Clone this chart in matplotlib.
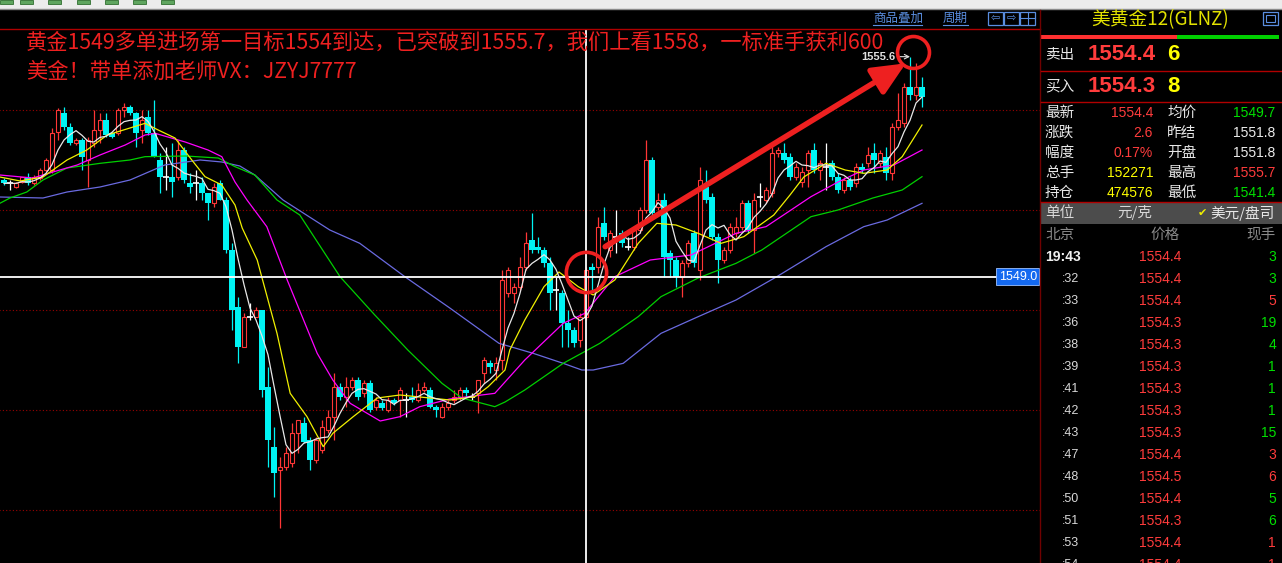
import matplotlib
matplotlib.use("Agg")
import matplotlib.pyplot as plt
import matplotlib.transforms as mtransforms
from matplotlib.patches import Rectangle
import numpy as np
import pandas as pd

plt.rcParams['font.family'] = ['Noto Sans CJK SC', 'DejaVu Sans']
NUM = ['Liberation Sans', 'DejaVu Sans']

# ---- bars (open / high / low / close)
opens = [1551.9, 1551.8, 1551.7, 1551.85, 1552.0, 1551.8, 1551.95, 1552.2, 1552.2, 1553.35,
         1553.9, 1553.5, 1553.0, 1553.1, 1552.5, 1553.0, 1553.4, 1553.7, 1553.3, 1553.3,
         1554.0, 1554.1, 1553.9, 1553.4, 1553.8, 1553.3, 1552.5, 1552.0, 1552.0, 1552.0,
         1552.8, 1551.8, 1551.8, 1551.8, 1551.5, 1551.2, 1551.8, 1551.3, 1549.8, 1548.1,
         1546.9, 1547.8, 1547.8, 1548.0, 1545.7, 1543.9, 1543.2, 1543.3, 1543.4, 1544.3,
         1544.6, 1544.1, 1543.5, 1543.8, 1544.4, 1544.8, 1545.7, 1545.4, 1545.7, 1545.9,
         1545.5, 1545.8, 1545.1, 1545.2, 1545.0, 1545.3, 1545.3, 1545.3, 1545.4, 1545.3,
         1545.6, 1545.6, 1545.1, 1544.8, 1545.1, 1545.3, 1545.4, 1545.6, 1545.4, 1545.5,
         1546.1, 1546.4, 1546.2, 1546.5, 1548.5, 1548.5, 1548.7, 1549.3, 1550.1, 1549.9,
         1549.8, 1549.4, 1548.6, 1548.5, 1547.6, 1547.4, 1547.1, 1547.8, 1549.3, 1549.3,
         1550.6, 1549.8, 1550.2, 1550.3, 1549.9, 1549.9, 1550.4, 1551.0, 1552.5, 1551.1,
         1551.3, 1549.7, 1549.5, 1549.0, 1549.4, 1550.3, 1549.2, 1551.7, 1551.4, 1550.2,
         1549.5, 1549.8, 1550.3, 1550.5, 1551.2, 1550.4, 1551.4, 1551.3, 1551.5, 1552.7,
         1552.7, 1552.6, 1552.0, 1551.85, 1552.2, 1552.8, 1552.2, 1552.3, 1552.4, 1552.0,
         1551.6, 1551.9, 1551.8, 1552.3, 1552.4, 1552.7, 1552.4, 1552.6, 1552.1, 1553.5,
         1553.6, 1554.7, 1554.45, 1554.7]
highs = [1551.95, 1551.9, 1551.85, 1552.0, 1552.1, 1552.05, 1552.25, 1552.55, 1553.45, 1554.05,
         1554.1, 1553.6, 1553.15, 1553.15, 1553.2, 1554.0, 1553.9, 1553.9, 1553.35, 1554.05,
         1554.2, 1554.15, 1553.95, 1554.0, 1554.0, 1554.3, 1552.7, 1552.9, 1553.0, 1553.1,
         1552.9, 1552.1, 1552.2, 1552.0, 1551.5, 1551.8, 1551.9, 1551.4, 1550.0, 1548.4,
         1547.9, 1548.2, 1548.1, 1548.0, 1546.3, 1544.5, 1543.6, 1543.9, 1544.6, 1544.7,
         1544.8, 1544.2, 1544.2, 1544.7, 1545.0, 1546.1, 1545.8, 1546.0, 1546.0, 1546.0,
         1545.9, 1545.9, 1545.4, 1545.3, 1545.4, 1545.35, 1545.7, 1545.5, 1545.7, 1545.8,
         1545.85, 1545.7, 1545.15, 1545.2, 1545.3, 1545.6, 1545.7, 1545.7, 1545.5, 1545.9,
         1546.6, 1546.5, 1546.6, 1549.2, 1549.3, 1548.8, 1549.6, 1550.35, 1550.9, 1550.2,
         1549.9, 1549.6, 1549.0, 1548.6, 1548.0, 1547.5, 1547.9, 1549.3, 1549.4, 1550.8,
         1551.1, 1550.4, 1551.0, 1550.4, 1550.2, 1550.5, 1551.1, 1553.1, 1552.6, 1551.5,
         1551.5, 1549.8, 1549.6, 1549.5, 1550.1, 1550.4, 1552.3, 1552.2, 1551.5, 1550.3,
         1549.9, 1550.6, 1550.8, 1551.3, 1551.3, 1551.5, 1551.8, 1551.7, 1553.0, 1552.9,
         1553.0, 1552.7, 1552.4, 1552.3, 1552.8, 1553.0, 1552.5, 1553.0, 1552.5, 1552.1,
         1552.0, 1552.0, 1552.4, 1552.4, 1552.9, 1553.0, 1552.8, 1552.9, 1553.6, 1554.5,
         1554.8, 1555.6, 1555.4, 1555.0]
lows = [1551.75, 1551.6, 1551.65, 1551.8, 1551.75, 1551.75, 1551.9, 1552.15, 1552.1, 1553.1,
        1553.4, 1552.95, 1552.95, 1552.2, 1551.7, 1552.9, 1553.0, 1553.2, 1553.15, 1553.25,
        1553.8, 1553.85, 1552.9, 1553.0, 1553.25, 1552.6, 1551.5, 1551.6, 1551.4, 1551.9,
        1551.8, 1551.5, 1551.3, 1551.3, 1550.7, 1551.1, 1551.3, 1549.7, 1547.4, 1546.4,
        1546.9, 1547.7, 1547.8, 1545.4, 1543.3, 1542.4, 1541.45, 1543.2, 1543.3, 1543.7,
        1544.0, 1543.2, 1543.4, 1543.7, 1544.3, 1544.1, 1545.3, 1545.1, 1545.6, 1545.3,
        1545.4, 1544.95, 1545.0, 1545.0, 1544.95, 1545.15, 1544.8, 1544.8, 1545.25, 1545.25,
        1545.55, 1545.05, 1544.8, 1544.75, 1545.0, 1545.2, 1545.3, 1545.4, 1545.3, 1544.9,
        1545.8, 1546.1, 1545.9, 1546.2, 1548.4, 1548.2, 1548.6, 1549.2, 1549.7, 1549.7,
        1549.3, 1548.0, 1548.0, 1546.9, 1546.9, 1546.9, 1546.9, 1547.7, 1548.6, 1549.1,
        1550.1, 1549.6, 1549.7, 1549.9, 1549.8, 1549.8, 1550.3, 1550.9, 1550.8, 1551.0,
        1549.0, 1549.0, 1548.7, 1548.4, 1549.3, 1549.3, 1548.9, 1551.2, 1550.1, 1548.8,
        1549.4, 1549.7, 1550.2, 1550.4, 1550.3, 1549.7, 1551.1, 1551.2, 1551.4, 1552.6,
        1552.4, 1551.9, 1551.9, 1551.7, 1551.7, 1552.1, 1551.9, 1551.6, 1551.9, 1551.5,
        1551.5, 1551.6, 1551.7, 1552.1, 1552.3, 1552.1, 1552.3, 1551.9, 1551.9, 1553.4,
        1553.5, 1554.3, 1554.3, 1554.1]
closes = [1551.8, 1551.8, 1551.8, 1552.0, 1551.8, 1552.0, 1552.2, 1552.5, 1553.3, 1554.0,
          1553.5, 1553.0, 1553.1, 1552.6, 1553.1, 1553.4, 1553.7, 1553.25, 1553.2, 1554.0,
          1554.1, 1553.9, 1553.3, 1553.7, 1553.3, 1552.6, 1552.0, 1552.0, 1551.85, 1552.8,
          1551.9, 1551.7, 1551.8, 1551.5, 1551.2, 1551.7, 1551.3, 1549.8, 1548.0, 1546.9,
          1547.8, 1547.8, 1548.0, 1545.6, 1544.1, 1543.1, 1543.3, 1543.7, 1544.3, 1544.7,
          1544.05, 1543.5, 1544.1, 1544.5, 1544.8, 1545.7, 1545.4, 1545.7, 1545.9, 1545.4,
          1545.8, 1545.0, 1545.3, 1545.05, 1545.3, 1545.2, 1545.6, 1545.3, 1545.3, 1545.6,
          1545.7, 1545.1, 1545.0, 1545.1, 1545.2, 1545.4, 1545.6, 1545.5, 1545.4, 1545.9,
          1546.5, 1546.3, 1546.4, 1548.9, 1549.2, 1548.7, 1549.3, 1550.0, 1549.8, 1549.8,
          1549.4, 1548.5, 1548.6, 1547.6, 1547.4, 1547.0, 1547.8, 1549.2, 1549.2, 1550.5,
          1550.2, 1550.3, 1550.2, 1550.0, 1549.9, 1550.4, 1551.0, 1552.5, 1550.9, 1551.3,
          1549.6, 1549.5, 1549.0, 1549.4, 1550.0, 1549.4, 1551.9, 1551.3, 1550.2, 1549.5,
          1549.8, 1550.5, 1550.5, 1551.2, 1550.4, 1551.3, 1551.4, 1551.6, 1552.7, 1552.8,
          1552.5, 1552.0, 1552.3, 1552.15, 1552.7, 1552.2, 1552.4, 1552.3, 1552.0, 1551.6,
          1551.9, 1551.7, 1552.3, 1552.2, 1552.65, 1552.5, 1552.7, 1552.1, 1553.5, 1553.7,
          1554.7, 1554.45, 1554.7, 1554.4]

# moving-average lines: (bar index, price)
ma10_x = [-0.7, 2.7, 6.5, 10.5, 13.8, 17.2, 21, 23.5, 25.7, 28.5, 31.3, 33.5, 36.3, 38.5, 39.7,
          42.2, 45.5, 47.7, 50.5, 53.2, 54.8, 58.2, 62.2, 66, 74.3, 78.5, 80.7, 83.5, 84.3, 86.8,
          90, 92.5, 95.7, 98.2, 101.8, 105.7, 108.8, 112, 115.7, 119.5, 123.3, 128.3, 131, 133.3,
          137, 140.2, 143.3, 147.2, 149.7, 153]
ma10_y = [1551.99, 1551.87, 1551.99, 1552.5, 1552.8, 1553.25, 1553.46, 1553.6, 1553.4, 1553.16,
          1552.5, 1552.0, 1551.75, 1551.15, 1550.46, 1549.5, 1547.3, 1545.5, 1544.8, 1543.9,
          1544.3, 1544.8, 1545.36, 1545.45, 1545.3, 1545.4, 1545.7, 1546.2, 1546.8, 1547.7,
          1548.7, 1549.14, 1548.7, 1548.45, 1548.9, 1550.0, 1550.6, 1550.55, 1550.3, 1550.0,
          1550.2, 1550.85, 1551.45, 1551.99, 1552.4, 1552.2, 1552.1, 1552.2, 1552.6, 1553.55]
ma20_x = [-0.7, 4.8, 9.3, 12.2, 16, 20.2, 23.5, 25.2, 30.2, 34, 36.3, 38.5, 40.5, 43.8, 47.2,
          52.2, 54.8, 57.7, 62.7, 66, 69.3, 74.3, 81.8, 86.8, 93.2, 96.8, 101.8, 107.7, 114.5,
          122, 127, 134.5, 139, 143.3, 148.3, 153]
ma20_y = [1552.05, 1551.96, 1552.2, 1552.35, 1552.65, 1552.95, 1553.25, 1553.3, 1553.04, 1552.8,
          1552.6, 1551.84, 1551.3, 1550.5, 1548.9, 1546.7, 1545.9, 1545.2, 1544.67, 1544.8,
          1545.1, 1545.33, 1545.5, 1546.5, 1547.6, 1547.9, 1549.0, 1549.5, 1549.65, 1550.3,
          1550.5, 1551.4, 1551.84, 1552.2, 1552.35, 1552.8]
ma40_x = [-0.7, 1, 3.8, 6.5, 10.5, 16, 21, 23.5, 30.2, 35.7, 38.5, 41.8, 45.5, 49.3, 56, 61.8,
          67.3, 73, 76.3, 79.7, 81.8, 83.5, 86.8, 93.2, 99.3, 105.7, 109.5, 115.7, 122, 126.3,
          134.5, 139, 144.8, 149.7, 153]
ma40_y = [1551.2, 1551.36, 1551.54, 1551.9, 1552.26, 1552.4, 1552.5, 1552.6, 1552.62, 1552.56,
          1552.3, 1552.05, 1551.3, 1550.85, 1549.0, 1547.85, 1546.8, 1545.8, 1545.36, 1545.2,
          1545.1, 1545.24, 1545.6, 1546.4, 1547.0, 1547.8, 1548.4, 1548.96, 1549.4, 1549.8,
          1550.8, 1551.0, 1551.36, 1551.6, 1552.0]
ma60_x = [-0.7, 6.5, 10.5, 16, 21, 26.8, 32.7, 36.3, 39.3, 41.8, 46.5, 54.3, 59.3, 66.8, 74.3,
          82.5, 88.2, 93.2, 96.3, 98.2, 103.2, 109.5, 115.7, 122, 128.8, 137, 143.3, 147.2, 153]
ma60_y = [1551.39, 1551.36, 1551.54, 1551.69, 1551.9, 1552.35, 1552.5, 1552.44, 1552.32, 1552.05,
          1551.3, 1550.4, 1550.0, 1549.0, 1548.06, 1547.0, 1546.7, 1546.4, 1546.2, 1546.2,
          1546.4, 1547.3, 1547.8, 1548.3, 1549.0, 1549.9, 1550.5, 1550.7, 1551.2]

grid_prices = [1554, 1551, 1548, 1545, 1542]
cross_bar = 97
cross_price = 1549.0
entry_mark = (97, 1549.15)
target_mark = (151.5, 1555.75)
arrow_from = (100.2, 1549.9)
arrow_to = (150.3, 1555.4)
peak_bar = 151

note_line1 = '黄金1549多单进场第一目标1554到达，已突破到1555.7，我们上看1558，一标准手获利600'
note_line2 = '美金！带单添加老师VX：JZYJ7777'

# ---- quote panel
title = '美黄金12(GLNZ)'
ask_price, ask_size = '1554.4', '6'
bid_price, bid_size = '1554.3', '8'
stat_left_labels = ['最新', '涨跌', '幅度', '总手', '持仓']
stat_left_values = ['1554.4', '2.6', '0.17%', '152271', '474576']
stat_left_colors = ['red', 'red', 'red', 'yellow', 'yellow']
stat_right_labels = ['均价', '昨结', '开盘', '最高', '最低']
stat_right_values = ['1549.7', '1551.8', '1551.8', '1555.7', '1541.4']
stat_right_colors = ['green', 'white', 'white', 'red', 'green']
tick_times = ['19:43', ':32', ':33', ':36', ':38', ':39', ':41', ':42', ':43', ':47', ':48',
              ':50', ':51', ':53', ':54']
tick_prices = ['1554.4', '1554.4', '1554.4', '1554.3', '1554.3', '1554.3', '1554.3', '1554.3',
               '1554.3', '1554.4', '1554.5', '1554.4', '1554.3', '1554.4', '1554.4']
tick_sizes = ['3', '3', '5', '19', '4', '1', '1', '1', '15', '3', '6', '5', '6', '1', '1']
tick_size_colors = ['green', 'green', 'red', 'green', 'green', 'green', 'green', 'green', 'green',
                    'red', 'red', 'green', 'green', 'red', 'red']

RED = '#ff3636'
CYAN = '#00f4f4'
ANN = '#ee2020'
PAL = {'red': '#ff3c3c', 'green': '#00e000', 'yellow': '#ffff00', 'white': '#ececec'}

W, H = 1282, 563
fig = plt.figure(figsize=(W / 100, H / 100), dpi=100, facecolor='black')

# ---- candlestick chart
ax = fig.add_axes([0, 0, 1040 / W, (H - 29) / H])
ax.set_xlim(-4 / 6, 1036 / 6)
ax.set_ylim(1554 - 453 * 0.03, 1554 + 81 * 0.03)
ax.axis('off')

o, h, l, c = map(np.array, (opens, highs, lows, closes))
idx = np.arange(len(c))
flat = np.isclose(o, c)
up = (c > o) & ~flat
dn = (c < o) & ~flat

ax.hlines(grid_prices, -1, 174, colors='#9a0000', linestyles=(0, (1, 2)), lw=0.8, zorder=1)

ax.vlines(idx[up], l[up], h[up], color=RED, lw=0.9, zorder=2)
ax.vlines(idx[dn], l[dn], h[dn], color=CYAN, lw=0.9, zorder=2)
ax.vlines(idx[flat], l[flat], h[flat], color='white', lw=0.9, zorder=2)
ax.bar(idx[up], (c - o)[up], bottom=o[up], width=0.68, facecolor='black',
       edgecolor=RED, lw=0.8, zorder=3)
ax.bar(idx[dn], (o - c)[dn], bottom=c[dn], width=0.85, color=CYAN, lw=0, zorder=3)
ax.hlines(c[flat], idx[flat] - 0.42, idx[flat] + 0.42, color='white', lw=1.2, zorder=3)

ma5 = pd.Series(c).rolling(5, min_periods=1).mean()
ax.plot(ma60_x, ma60_y, color='#6a6ae0', lw=0.9, zorder=4)
ax.plot(ma40_x, ma40_y, color='#00d000', lw=0.9, zorder=4)
ax.plot(ma20_x, ma20_y, color='#ff00ff', lw=0.9, zorder=4)
ax.plot(ma10_x, ma10_y, color='#f0f000', lw=0.9, zorder=4)
ax.plot(idx, ma5, color='#e8e8e8', lw=0.9, zorder=4)

# crosshair
ax.axvline(cross_bar, color='white', lw=1.3, zorder=5)
ax.axhline(cross_price, xmin=0, xmax=997 / 1040, color='white', lw=1.3, zorder=5)
blend = mtransforms.blended_transform_factory(ax.transAxes, ax.transData)
ax.text(0.997, cross_price, f'{cross_price:.1f}', transform=blend, ha='right', va='center',
        color='white', fontsize=9, family=NUM, zorder=6,
        bbox=dict(boxstyle='square,pad=0.2', fc='#1469f0', ec='#9cc0ff', lw=0.6))

# highest price marker
ax.annotate(f'{highs[peak_bar]:.1f}', xy=(peak_bar, highs[peak_bar]), xytext=(-15, 0),
            textcoords='offset pixels', ha='right', va='center', color='#e0e0e0',
            fontsize=8, family=NUM, fontweight='bold', zorder=6,
            arrowprops=dict(arrowstyle='->', color='#e0e0e0', lw=0.8, shrinkA=1, shrinkB=0))

# hand-drawn marks
ax.plot(*entry_mark, 'o', ms=29, mfc='none', mec=ANN, mew=2.6, zorder=7)
ax.plot(*target_mark, 'o', ms=23, mfc='none', mec=ANN, mew=2.6, zorder=7)
ax.annotate('', xy=arrow_to, xytext=arrow_from, zorder=7,
            arrowprops=dict(arrowstyle='-|>,head_length=1.1,head_width=0.5', color=ANN,
                            lw=4, shrinkA=0, shrinkB=0, mutation_scale=18))

# ---- window furniture, notes and quote panel in pixel coordinates
ui = fig.add_axes([0, 0, 1, 1], zorder=10)
ui.set_xlim(0, W)
ui.set_ylim(H, 0)
ui.axis('off')

ui.add_patch(Rectangle((0, 0), W, 8.5, fc='#ececec', ec='none'))
ui.plot([0, W], [9, 9], color='#8a8a8a', lw=1)
for bx in [0, 20, 48, 77, 105, 133, 161]:
    ui.add_patch(Rectangle((bx, 0), 13, 3.5, fc='#5fa55f', ec='#2f6f2f', lw=0.6))
ui.plot([0, 1040], [28.5, 28.5], color='#b00000', lw=1)
ui.plot([1040, 1040], [9.5, H], color='#700000', lw=1)

link = '#5a8ee0'
ui.text(873, 18, '商品叠加', color=link, fontsize=9, ha='left', va='center')
ui.plot([873, 922], [25, 25], color=link, lw=0.8)
ui.text(943, 18, '周期', color=link, fontsize=9, ha='left', va='center')
ui.plot([943, 968], [25, 25], color=link, lw=0.8)
for bx, sym in [(988, '⇦'), (1004, '⇨'), (1020, '')]:
    ui.add_patch(Rectangle((bx, 11.5), 15, 13, fc='none', ec=link, lw=0.9))
    if sym:
        ui.text(bx + 7.5, 18, sym, color=link, fontsize=8, ha='center', va='center',
                family='DejaVu Sans')
ui.plot([1028, 1028], [12, 24], color=link, lw=0.8)
ui.plot([1020, 1035], [18, 18], color=link, lw=0.8)

ui.text(26, 43, note_line1, color=ANN, fontsize=15.3, ha='left', va='center')
ui.text(26, 72, note_line2, color=ANN, fontsize=15.3, ha='left', va='center')

# quote panel
ui.text(1160, 20, title, color='#e2e200', fontsize=13.5, ha='center', va='center')
ui.add_patch(Rectangle((1263, 11.5), 15, 13, fc='none', ec=link, lw=0.9))
ui.add_patch(Rectangle((1266, 14.5), 9, 7, fc='none', ec=link, lw=0.8))
ui.add_patch(Rectangle((1041, 34.5), 136, 4.5, fc='#ff3030', ec='none'))
ui.add_patch(Rectangle((1177, 34.5), 102, 4.5, fc='#00d000', ec='none'))
for yy in [70.5, 101.5, 201.5]:
    ui.plot([1041, W], [yy, yy], color='#b00000', lw=1)

for yy, lab, price, size in [(55, '卖出', ask_price, ask_size), (86, '买入', bid_price, bid_size)]:
    ui.text(1045, yy, lab, color='#e8e8e8', fontsize=10.5, ha='left', va='center')
    ui.text(1088, yy, price, color=PAL['red'], fontsize=16, fontweight='bold', family=NUM,
            ha='left', va='center')
    ui.text(1167, yy, size, color=PAL['yellow'], fontsize=16, fontweight='bold', family=NUM,
            ha='left', va='center')

for k in range(len(stat_left_labels)):
    yy = 113 + 20 * k
    ui.text(1045, yy, stat_left_labels[k], color='#e8e8e8', fontsize=10.5, ha='left', va='center')
    ui.text(1153, yy, stat_left_values[k], color=PAL[stat_left_colors[k]], fontsize=10,
            family=NUM, ha='right', va='center')
    ui.text(1167, yy, stat_right_labels[k], color='#e8e8e8', fontsize=10.5, ha='left', va='center')
    ui.text(1275, yy, stat_right_values[k], color=PAL[stat_right_colors[k]], fontsize=10,
            family=NUM, ha='right', va='center')

ui.add_patch(Rectangle((1041, 202), 241, 21.5, fc='#4c4c4c', ec='none'))
ui.text(1045, 213, '单位', color='#d8d8d8', fontsize=10.5, ha='left', va='center')
ui.text(1135, 213, '元/克', color='#d8d8d8', fontsize=10.5, ha='center', va='center')
ui.text(1202, 213, '✔', color='#f0f000', fontsize=8, ha='center', va='center',
        family='DejaVu Sans')
ui.text(1275, 213, '美元/盘司', color='#e8e8e8', fontsize=10.5, ha='right', va='center')

ui.text(1045, 235, '北京', color='#8a8a8a', fontsize=10.5, ha='left', va='center')
ui.text(1165, 235, '价格', color='#8a8a8a', fontsize=10.5, ha='center', va='center')
ui.text(1276, 235, '现手', color='#8a8a8a', fontsize=10.5, ha='right', va='center')

for k in range(len(tick_times)):
    yy = 257 + 22 * k
    if k == 0:
        ui.text(1045, yy, tick_times[k], color='#f0f0f0', fontsize=10, fontweight='bold',
                family=NUM, ha='left', va='center')
    else:
        ui.text(1079, yy, tick_times[k], color='#d8d8d8', fontsize=9, family=NUM,
                ha='right', va='center')
    ui.text(1160, yy, tick_prices[k], color=PAL['red'], fontsize=10, family=NUM,
            ha='center', va='center')
    ui.text(1276, yy, tick_sizes[k], color=PAL[tick_size_colors[k]], fontsize=10, family=NUM,
            ha='right', va='center')

fig.savefig('out.png', dpi=100, facecolor='black')
